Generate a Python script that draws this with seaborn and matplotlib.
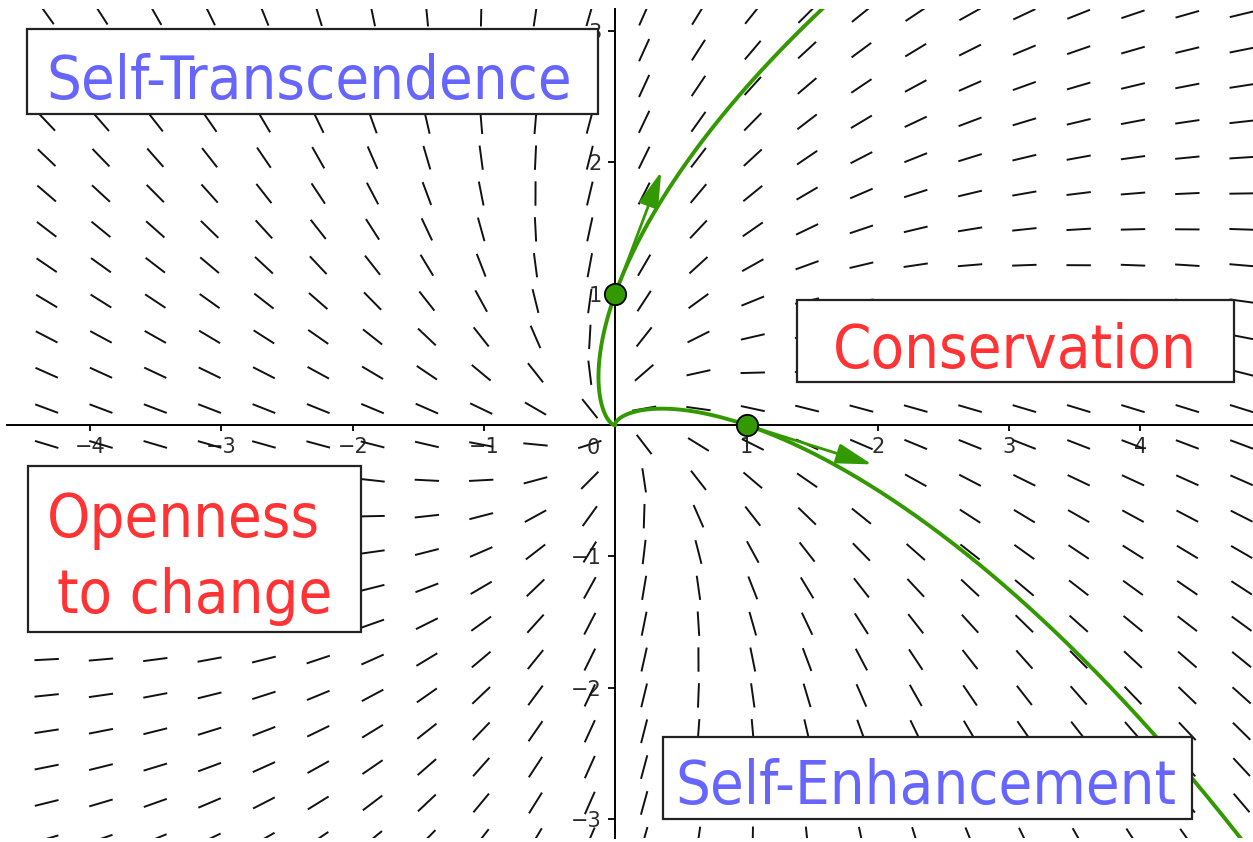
import numpy as np
import pandas as pd
import matplotlib
matplotlib.use("Agg")
import matplotlib.pyplot as plt
import seaborn as sns
from matplotlib.collections import LineCollection
from matplotlib.patches import Rectangle, FancyArrowPatch
from matplotlib.textpath import TextPath
from matplotlib.font_manager import FontProperties, fontManager

# ---------------- data ----------------
# linear system  dx/dt = a*x + b*y ,  dy/dt = c*x + d*y   (slope field dy/dx)
sys_a, sys_b = 1.0, 0.35
sys_c, sys_d = -0.34, 0.97
start_x = [0.0, 1.0]
start_y = [1.0, 0.0]
arrow_dx = [0.35, 0.955]
arrow_dy = [0.93, -0.30]
field_x0, field_step_x, field_nx = -4.331, 0.4137, 23
field_y0, field_step_y, field_ny = 3.128, -0.273, 24
x_ticks = [-4, -3, -2, -1, 1, 2, 3, 4]
y_ticks = [-3, -2, -1, 1, 2, 3]
label_texts = ["Self-Transcendence", "Conservation", "Openness", "to change", "Self-Enhancement"]
label_colors = ["#6666ff", "#ff3333", "#ff3333", "#ff3333", "#6666ff"]

# ---------------- layout ----------------
W, H = 1253, 842
green = "#339900"
xlim = (-4.633, 4.857)
ylim = (-3.145, 3.172)

sns.set_theme(style="white")
plt.rcParams["font.family"] = ["DejaVu Sans"]

fig = plt.figure(figsize=(W / 100, H / 100), dpi=100)
fig.patch.set_facecolor("white")
ax = fig.add_axes([7 / W, 4 / H, 1246 / W, 829.5 / H])
ax.set_facecolor("white")
ax.set_xlim(*xlim)
ax.set_ylim(*ylim)

# slope field
gx = field_x0 + field_step_x * np.arange(field_nx)
gy = field_y0 + field_step_y * np.arange(field_ny)
X, Y = np.meshgrid(gx, gy)
U = sys_a * X + sys_b * Y
V = sys_c * X + sys_d * Y
N = np.hypot(U, V)
U, V = U / N, V / N
h = 0.093
segs = np.stack([np.stack([X - h * U, Y - h * V], -1),
                 np.stack([X + h * U, Y + h * V], -1)], axis=-2).reshape(-1, 2, 2)
ax.add_collection(LineCollection(segs, colors="#111111", linewidths=1.4, zorder=1))

# solution curves (RK4 integration of the system from the start points)
def rhs(p):
    return np.array([sys_a * p[0] + sys_b * p[1], sys_c * p[0] + sys_d * p[1]])

def integrate(p0, t_end, dt=0.004):
    n = int(abs(t_end) / dt)
    s = dt * np.sign(t_end)
    pts = [np.array(p0, float)]
    p = pts[0]
    for _ in range(n):
        k1 = rhs(p); k2 = rhs(p + s / 2 * k1); k3 = rhs(p + s / 2 * k2); k4 = rhs(p + s * k3)
        p = p + s / 6 * (k1 + 2 * k2 + 2 * k3 + k4)
        pts.append(p)
    return np.array(pts)

rows = []
for i, (x0, y0) in enumerate(zip(start_x, start_y)):
    back = integrate((x0, y0), -7.0)[::-1]
    fwd = integrate((x0, y0), 2.1)
    path = np.vstack([back, fwd[1:]])
    rows.append(pd.DataFrame({"x": path[:, 0], "y": path[:, 1], "curve": i}))
curves = pd.concat(rows, ignore_index=True)
sns.lineplot(data=curves, x="x", y="y", units="curve", estimator=None, sort=False,
             color=green, linewidth=2.8, ax=ax, legend=False, zorder=4)

# vectors
for x0, y0, dx, dy in zip(start_x, start_y, arrow_dx, arrow_dy):
    ax.add_patch(FancyArrowPatch((x0, y0), (x0 + dx, y0 + dy),
                                 arrowstyle="-|>,head_length=2.2,head_width=0.62",
                                 mutation_scale=10, color=green, lw=2.0,
                                 shrinkA=0, shrinkB=0, zorder=5))

sns.scatterplot(x=start_x, y=start_y, s=235, color=green, edgecolor="black",
                linewidth=1.3, ax=ax, legend=False, zorder=6)

# axes through origin
for side in ["top", "right"]:
    ax.spines[side].set_visible(False)
ax.spines["left"].set_position(("data", 0))
ax.spines["bottom"].set_position(("data", 0))
for side in ["left", "bottom"]:
    ax.spines[side].set_color("black")
    ax.spines[side].set_linewidth(1.4)
    ax.spines[side].set_zorder(3)
ax.set_xticks(x_ticks)
ax.set_yticks(y_ticks)
ax.set_xticklabels([f"\u2212{-t}" if t < 0 else str(t) for t in x_ticks])
ax.set_yticklabels([f"\u2212{-t}" if t < 0 else str(t) for t in y_ticks])
ax.tick_params(axis="x", bottom=True, direction="out", length=4.2, width=1.3,
               pad=4.3, labelsize=15, labelcolor="#2b2b2b", color="black")
ax.tick_params(axis="y", left=True, direction="out", length=5.0, width=1.3,
               pad=4.6, labelsize=15, labelcolor="#2b2b2b", color="black")
ax.annotate("0", xy=(0, 0), xytext=(-11, -9.5), textcoords="offset points",
            ha="right", va="top", fontsize=15, color="#2b2b2b")
ax.set_xlabel("")
ax.set_ylabel("")

# ---------------- label boxes ----------------
names = {f.name for f in fontManager.ttflist}
fp = None
for cand in ["Liberation Sans Narrow", "Arial Narrow"]:
    if cand in names:
        fp = FontProperties(family=cand)
        break
if fp is None:
    cond = [f for f in fontManager.ttflist
            if "condensed" in str(f.stretch).lower() and f.style == "normal"
            and f.name in ("DejaVu Sans", "Noto Sans", "Open Sans", "Roboto", "Liberation Sans")
            and f.weight in (400, "normal", "regular")]
    if cond:
        fp = FontProperties(fname=cond[0].fname)
    else:
        fp = FontProperties(family="Liberation Sans")

boxes = [(27, 29, 598, 114), (797, 300, 1234, 382), (28, 466, 361, 632), (663, 737, 1192, 819)]
for (x0, y0, x1, y1) in boxes:
    fig.add_artist(Rectangle((x0 / W, 1 - y1 / H), (x1 - x0) / W, (y1 - y0) / H,
                             transform=fig.transFigure, facecolor="white",
                             edgecolor="#222222", linewidth=1.6, zorder=5))

# ink centre x, baseline y, ink width (px)
targets = [(310.5, 99, 523), (1014, 368, 352), (184, 537, 268), (194, 613, 272), (927.5, 804, 493)]
cap_px = 48.0
cap_em = TextPath((0, 0), "H", size=1, prop=fp).get_extents().height
ems = []
exts = []
for s, (cx, by, tw) in zip(label_texts, targets):
    e = TextPath((0, 0), s, size=1, prop=fp).get_extents()
    exts.append(e)
    ems.append(tw / e.width)
em = min(float(np.median(ems)), cap_px / cap_em)
fs = em * 72 / 100
for s, col, (cx, by, tw), e in zip(label_texts, label_colors, targets, exts):
    xl = cx - (e.x0 + e.width / 2) * em
    fig.text(xl / W, 1 - by / H, s, fontproperties=fp, fontsize=fs, color=col,
             ha="left", va="baseline", zorder=6)

fig.savefig("out.png", dpi=100, facecolor="white")
